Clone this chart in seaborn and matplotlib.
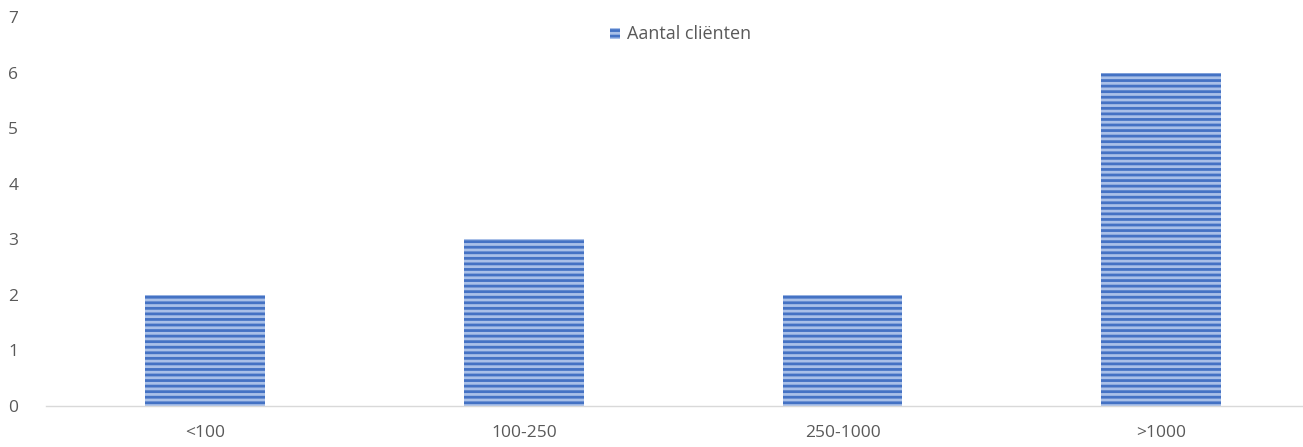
import numpy as np
import pandas as pd
import matplotlib
matplotlib.use('Agg')
import matplotlib.pyplot as plt
import seaborn as sns

categories = ['<100', '100-250', '250-1000', '>1000']
clients = [2, 3, 2, 6]
series_name = 'Aantal cliënten'

sns.set_style('white')
plt.rcParams['font.family'] = ['Open Sans', 'DejaVu Sans']
plt.rcParams['hatch.linewidth'] = 2.0

df = pd.DataFrame({'cat': categories, 'n': clients})

fig = plt.figure(figsize=(13.03, 4.47), dpi=100)
ax = fig.add_axes([46/1303, 41/447, 1257/1303, 389/447])

sns.barplot(data=df, x='cat', y='n', color='#A9C0E8', width=0.376,
            label=series_name, ax=ax, saturation=1)
for p in ax.patches:
    p.set_hatch('---')
    p.set_edgecolor('#4472C4')
    p.set_linewidth(0)

ax.set_ylim(0, 7)
ax.set_xlim(-0.5, 3.445)
ax.set_yticks(range(0, 8))
ax.set_xlabel('')
ax.set_ylabel('')
ax.tick_params(axis='both', length=0, labelsize=12.5, colors='#595959')
ax.tick_params(axis='y', pad=20)
ax.tick_params(axis='x', pad=14)
for s in ['top', 'right', 'left']:
    ax.spines[s].set_visible(False)
ax.spines['bottom'].set_color('#D9D9D9')
ax.spines['bottom'].set_linewidth(1)

leg = ax.legend(loc='upper center', bbox_to_anchor=(0.505, 1.02), frameon=False,
                fontsize=13, handlelength=0.55, handleheight=0.55,
                handletextpad=0.4, labelcolor='#595959')
for h in leg.legend_handles:
    h.set_hatch('---')
    h.set_edgecolor('#4472C4')
    h.set_linewidth(0)

fig.savefig('out.png', dpi=100)
